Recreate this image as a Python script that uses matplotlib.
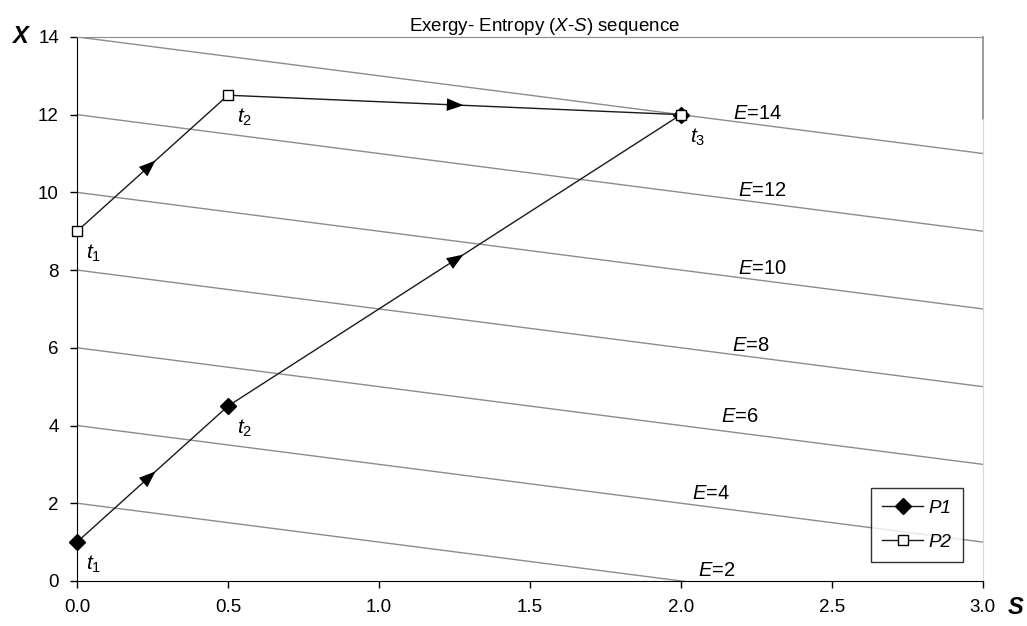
import matplotlib

matplotlib.use("Agg")
import matplotlib.pyplot as plt
import numpy as np

plt.rcParams["font.family"] = ["Liberation Sans", "DejaVu Sans"]
plt.rcParams["mathtext.fontset"] = "custom"
plt.rcParams["mathtext.rm"] = "Liberation Sans"
plt.rcParams["mathtext.it"] = "Liberation Sans:italic"
plt.rcParams["mathtext.bf"] = "Liberation Sans:bold"

# process paths in the exergy-entropy plane
p1_s = [0.0, 0.5, 2.0]
p1_x = [1.0, 4.5, 12.0]
p2_s = [0.0, 0.5, 2.0]
p2_x = [9.0, 12.5, 12.0]
p1_times = ["1", "2", "3"]
p2_times = ["1", "2", None]

# iso-energy lines E = X + S
energy_levels = [2, 4, 6, 8, 10, 12, 14]
energy_label_s = [2.12, 2.10, 2.195, 2.23, 2.27, 2.27, 2.255]
energy_label_x = [0.28, 2.24, 4.22, 6.07, 8.05, 10.04, 12.02]

FS = 13.5
GREY = "#8c8c8c"

fig = plt.figure(figsize=(10.27, 6.26), dpi=100)
ax = fig.add_axes([0.075, 0.072, 0.882, 0.869])

s_line = np.array([0.0, 3.0])
for e, ls, lx in zip(energy_levels, energy_label_s, energy_label_x):
    ax.plot(s_line, e - s_line, color=GREY, lw=1.0, zorder=1, clip_on=True)
    ax.text(ls, lx, f"$\\it{{E}}$=${e}$", fontsize=14.5, ha="center", va="center", zorder=2)

ax.plot(p1_s, p1_x, color="#1a1a1a", lw=1.0, marker="D", ms=8, mfc="black", mec="black",
        label="P1", zorder=4, clip_on=False)
ax.plot(p2_s, p2_x, color="#1a1a1a", lw=1.0, marker="s", ms=7, mfc="white", mec="black",
        label="P2", zorder=5, clip_on=False)


def add_arrows(ss, xs):
    for i in range(len(ss) - 1):
        ms = (ss[i] + ss[i + 1]) / 2.0
        mx = (xs[i] + xs[i + 1]) / 2.0
        ds = (ss[i + 1] - ss[i]) * 0.02
        dx = (xs[i + 1] - xs[i]) * 0.02
        ax.annotate("", xy=(ms + ds, mx + dx), xytext=(ms - ds, mx - dx),
                    arrowprops=dict(arrowstyle="-|>,head_length=1.0,head_width=0.38",
                                    mutation_scale=12, color="black", lw=0,
                                    shrinkA=0, shrinkB=0),
                    zorder=6)


add_arrows(p1_s, p1_x)
add_arrows(p2_s, p2_x)

for ss, xs, ts in [(p1_s, p1_x, p1_times), (p2_s, p2_x, p2_times)]:
    for s, x, t in zip(ss, xs, ts):
        if t is None:
            continue
        ax.annotate(f"$\\it{{t}}_{t}$", (s, x), xytext=(12, -16), textcoords="offset points",
                    fontsize=15, ha="center", va="center")

ax.set_xlim(0, 3)
ax.set_ylim(0, 14)
ax.set_xticks(np.arange(0, 3.01, 0.5))
ax.set_xticklabels([f"{v:.1f}" for v in np.arange(0, 3.01, 0.5)])
ax.set_yticks(np.arange(0, 15, 2))
ax.tick_params(labelsize=FS, direction="out", length=5, width=1, pad=8)
ax.spines["left"].set_color("black")
ax.spines["bottom"].set_color("black")
ax.spines["top"].set_color(GREY)
ax.spines["right"].set_visible(False)
ax.plot([3, 3], [11.9, 14], color=GREY, lw=1.2, clip_on=False, zorder=1)
ax.plot([3, 3], [0, 11.9], color="#d8d8d8", lw=0.8, clip_on=False, zorder=1)

ax.set_title("Exergy- Entropy ($\\it{X}$-$\\it{S}$) sequence", fontsize=FS, pad=3, x=0.516)
fig.text(0.012, 0.941, "X", fontsize=17, ha="left", va="center",
         fontweight="bold", fontstyle="italic")
fig.text(0.989, 0.03, "S", fontsize=17, ha="center", va="center",
         fontweight="bold", fontstyle="italic")

leg = ax.legend(loc="lower right", bbox_to_anchor=(0.978, 0.035), frameon=True, fancybox=False,
                edgecolor="black", prop={"style": "italic", "size": FS}, borderaxespad=0,
                handlelength=2.2, handletextpad=0.3, labelspacing=0.9, borderpad=0.6)
leg.get_frame().set_linewidth(1.0)

fig.savefig("out.png", dpi=100)
plt.close(fig)
